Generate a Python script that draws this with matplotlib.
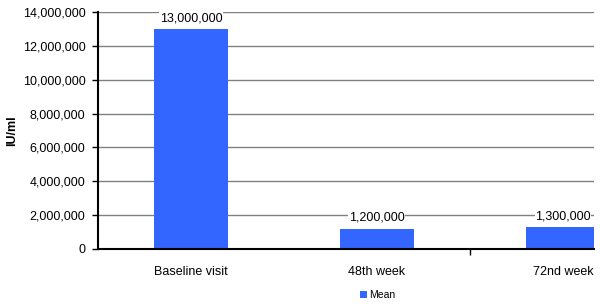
import matplotlib
matplotlib.use("Agg")
import matplotlib.pyplot as plt
from matplotlib.ticker import FuncFormatter, FixedLocator

categories = ["Baseline visit", "48th week", "72nd week"]
means = [13000000, 1200000, 1300000]
value_labels = ["13,000,000", "1,200,000", "1,300,000"]

plt.rcParams['font.family'] = ['Liberation Sans', 'DejaVu Sans']
fig = plt.figure(figsize=(6.0, 3.06), dpi=100)
ax = fig.add_axes([0.1633, 0.1863, 0.8267, 0.7745])

x = list(range(len(categories)))
bars = ax.bar(x, means, width=0.4, color="#3366FF", label="Mean", zorder=3)
for xi, v, lab in zip(x, means, value_labels):
    ax.annotate(lab, (xi, v), xytext=(0, 3.5), textcoords="offset points",
                ha="center", va="bottom", fontsize=9, zorder=4,
                bbox=dict(boxstyle="square,pad=0.05", fc="white", ec="none"))

ax.set_xlim(-0.5, 2.167)
ax.set_ylim(0, 14000000)
ax.set_yticks(range(0, 14000001, 2000000))
ax.yaxis.set_major_formatter(FuncFormatter(lambda v, p: f"{int(v):,}"))
ax.set_xticks(x)
ax.set_xticklabels(categories, fontsize=9)
ax.xaxis.set_minor_locator(FixedLocator([1.5]))
ax.tick_params(axis="x", which="major", length=0, pad=12)
ax.tick_params(axis="x", which="minor", length=4, width=1, color="black", direction="out")
ax.tick_params(axis="y", length=4, width=1, color="black", labelsize=9, pad=5)
ax.grid(axis="y", color="#808080", linewidth=1, zorder=0)
for s in ["top", "right"]:
    ax.spines[s].set_visible(False)
ax.spines["left"].set_linewidth(1.5)
ax.spines["bottom"].set_linewidth(1.5)
ax.spines["left"].set_zorder(5)
ax.spines["bottom"].set_zorder(5)
ax.set_ylabel("IU/ml", fontsize=9, fontweight="bold", labelpad=3)

fig.legend(handles=[bars], labels=["Mean"], loc="center", bbox_to_anchor=(0.63, 0.035),
           frameon=False, fontsize=7.5, handlelength=0.6, handleheight=0.6,
           handletextpad=0.3)

fig.savefig("out.png", dpi=100)
